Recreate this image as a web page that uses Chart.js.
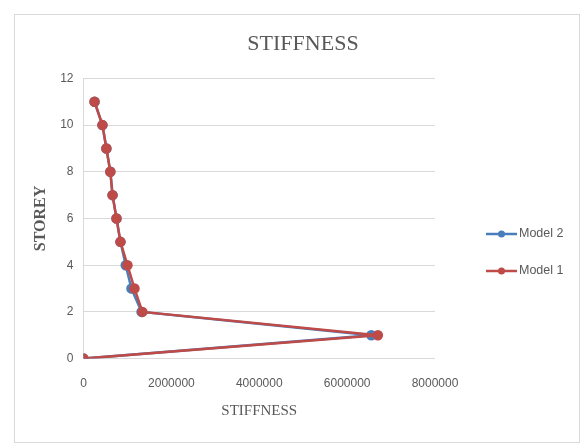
<!DOCTYPE html>
<html>
<head>
<meta charset="utf-8">
<script src="https://cdn.jsdelivr.net/npm/chart.js@4.4.1/dist/chart.umd.min.js"></script>
<style>
  body { margin: 0; background: #fff; }
  #box {
    position: absolute; left: 14px; top: 14px;
    width: 564px; height: 427px;
    border: 1px solid #d9d9d9; background: #fff;
  }
</style>
</head>
<body>
<div id="box"><canvas id="stiffChart"></canvas></div>
<script>
// storey levels and stiffness per model
const storeys = [0, 1, 2, 3, 4, 5, 6, 7, 8, 9, 10, 11];
const model1 = [0, 6700000, 1340000, 1160000, 1000000, 840000, 750000, 660000, 610000, 520000, 430000, 250000];
const model2 = [0, 6550000, 1320000, 1090000, 960000, 840000, 750000, 660000, 610000, 520000, 430000, 250000];
const xTicks = [0, 2000000, 4000000, 6000000, 8000000];
const yTicks = [0, 2, 4, 6, 8, 10, 12];

const blue = '#4a7ebb';
const red = '#be4b48';
const grey = '#595959';

const toPoints = vals => vals.map((v, i) => ({ x: v, y: storeys[i] }));

// legend drawn like excel : line with a dot in the middle
const sideLegend = {
  id: 'sideLegend',
  afterDraw(chart) {
    const ctx = chart.ctx;
    ctx.save();
    chart.data.datasets.forEach((ds, i) => {
      const y = 219 + i * 37;
      const x0 = 471;
      ctx.strokeStyle = ds.borderColor;
      ctx.lineWidth = 2.5;
      ctx.beginPath();
      ctx.moveTo(x0, y);
      ctx.lineTo(x0 + 31, y);
      ctx.stroke();
      ctx.fillStyle = ds.borderColor;
      ctx.beginPath();
      ctx.arc(x0 + 15.5, y, 3.5, 0, Math.PI * 2);
      ctx.fill();
      ctx.fillStyle = grey;
      ctx.font = '12.5px "Liberation Sans", Arial, sans-serif';
      ctx.textBaseline = 'middle';
      ctx.fillText(ds.label, x0 + 33, y);
    });
    ctx.restore();
  }
};

const ctx = document.getElementById('stiffChart').getContext('2d');
const stiffChart = new Chart(ctx, {
  type: 'scatter',
  data: {
    datasets: [
      { label: 'Model 2', data: toPoints(model2), showLine: true, order: 1,
        borderColor: blue, backgroundColor: blue, borderWidth: 2.5, pointRadius: 4, pointHoverRadius: 4 },
      { label: 'Model 1', data: toPoints(model1), showLine: true, order: 0,
        borderColor: red, backgroundColor: red, borderWidth: 2.5, pointRadius: 4, pointHoverRadius: 4 }
    ]
  },
  options: {
    responsive: true,
    maintainAspectRatio: false,
    animation: false,
    layout: { padding: { left: 12, right: 0, top: 6, bottom: 18 } },
    plugins: {
      legend: { display: false },
      tooltip: { enabled: false },
      title: {
        display: true,
        text: 'STIFFNESS',
        color: grey,
        font: { family: '"Liberation Serif", "Times New Roman", serif', size: 22, weight: 'normal' },
        padding: { top: 10, bottom: 21 }
      }
    },
    scales: {
      x: {
        type: 'linear',
        min: 0, max: 8000000,
        afterBuildTicks: axis => { axis.ticks = xTicks.map(v => ({ value: v })); },
        ticks: {
          color: grey,
          font: { family: '"Liberation Sans", Arial, sans-serif', size: 12 },
          callback: v => String(v),
          maxRotation: 0,
          padding: 10
        },
        grid: { display: false },
        border: { display: false },
        title: {
          display: true, text: 'STIFFNESS', color: grey,
          font: { family: '"Liberation Serif", "Times New Roman", serif', size: 15 },
          padding: { top: 1 }
        }
      },
      y: {
        type: 'linear',
        min: 0, max: 12,
        afterBuildTicks: axis => { axis.ticks = yTicks.map(v => ({ value: v })); },
        ticks: {
          color: grey,
          font: { family: '"Liberation Sans", Arial, sans-serif', size: 12 },
          padding: 10
        },
        grid: { color: '#d9d9d9', lineWidth: 1, drawTicks: false },
        border: { display: true, color: '#d9d9d9' },
        title: {
          display: true, text: 'STOREY', color: grey,
          font: { family: '"Liberation Serif", "Times New Roman", serif', size: 16, weight: 'bold' },
          padding: { bottom: 0 }
        }
      },
      // empty right axis that only keeps room for the legend
      yRoom: {
        type: 'linear',
        position: 'right',
        min: 0, max: 12,
        grid: { display: false },
        border: { display: false },
        ticks: { display: false },
        afterFit: axis => { axis.width = 144; }
      }
    }
  },
  plugins: [sideLegend]
});
</script>
</body>
</html>
